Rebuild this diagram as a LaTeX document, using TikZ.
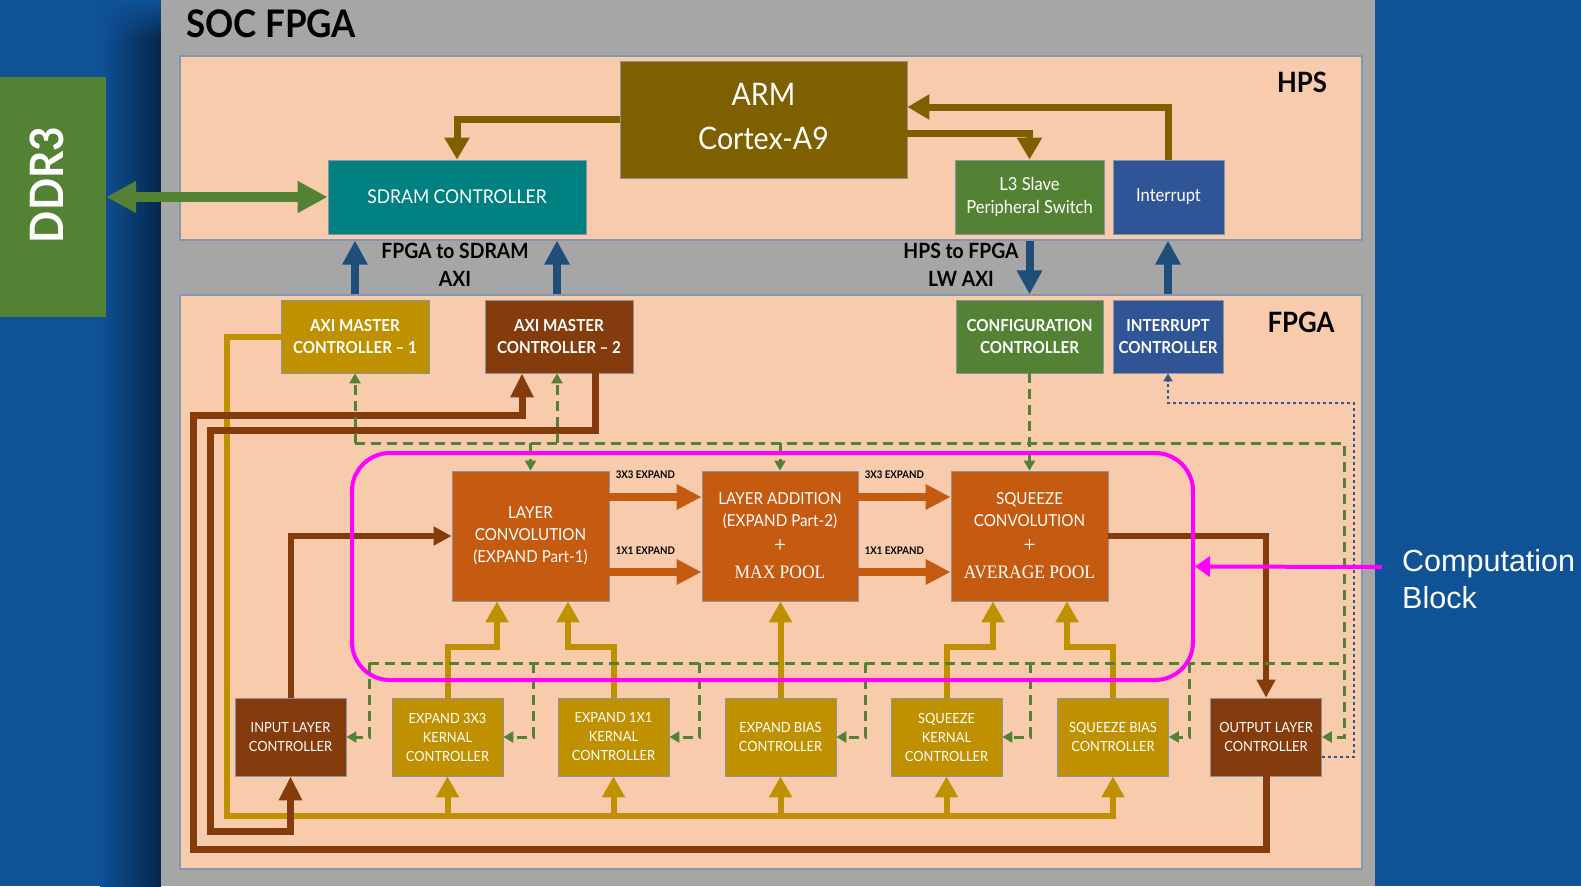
\documentclass[tikz,border=0pt]{standalone}
\usepackage{fontspec}
\setmainfont{Lato}[FakeStretch=0.92]
\newfontfamily\timesfont{Liberation Serif}[FakeStretch=0.92]
\newfontfamily\arialfont{Liberation Sans}
\usetikzlibrary{arrows.meta,calc,fadings}

\definecolor{bgblue}{HTML}{0F5296}
\definecolor{shadowc}{HTML}{06264A}
\definecolor{panelgray}{HTML}{A6A6A6}
\definecolor{peach}{HTML}{F8CBAD}
\definecolor{regionline}{HTML}{8497B0}
\definecolor{boxline}{HTML}{8A949E}
\definecolor{olive}{HTML}{7F6000}
\definecolor{tealbox}{HTML}{008080}
\definecolor{greenbox}{HTML}{548235}
\definecolor{bluebox}{HTML}{2F5597}
\definecolor{goldbox}{HTML}{BF9000}
\definecolor{brownbox}{HTML}{843C0C}
\definecolor{orangebox}{HTML}{C55A11}
\definecolor{arrowblue}{HTML}{1F4E79}
\definecolor{pinkline}{HTML}{FF00FF}

\newcommand\setfs[2]{\fontsize{#1pt}{#2pt}\selectfont}
\tikzfading[name=fadedown, top color=transparent!100, bottom color=transparent!0]

\begin{document}
\begin{tikzpicture}[x=1pt,y=-1pt,
  region/.style={draw=regionline, line width=1.2pt, fill=peach, inner sep=0pt},
  box/.style={draw=boxline, line width=0.8pt, inner sep=0pt, align=center, text=white},
  hpsbox/.style={box, minimum height=74pt},
  topbox/.style={box, minimum width=148pt, minimum height=73pt, font=\bfseries\setfs{16.5}{22}},
  compbox/.style={box, fill=orangebox, minimum width=157pt, minimum height=130pt, font=\setfs{16.5}{22}},
  botbox/.style={box, minimum width=111pt, minimum height=78pt, font=\setfs{14}{19}},
  lbl/.style={inner sep=0pt, font=\bfseries\setfs{10.5}{12}},
  olivearr/.style={draw=olive, line width=7pt, -{Triangle[width=24pt,length=22pt]}},
  ddrarr/.style={draw=greenbox, line width=10pt, {Triangle[width=30pt,length=30pt]}-{Triangle[width=30pt,length=30pt]}},
  bluearr/.style={draw=arrowblue, line width=8pt, -{Triangle[width=24pt,length=24pt]}},
  goldline/.style={draw=goldbox, line width=6pt, line cap=rect},
  goldarr/.style={draw=goldbox, line width=6pt, -{Triangle[width=22pt,length=21pt]}},
  brownarr/.style={draw=brownbox, line width=7pt, -{Triangle[width=22pt,length=24pt]}},
  brownthin/.style={draw=brownbox, line width=6pt, -{Triangle[width=18pt,length=18pt]}},
  orangearr/.style={draw=orangebox, line width=8pt, -{Triangle[width=24pt,length=25pt]}},
  gdash/.style={draw=greenbox, line width=3pt, dash pattern=on 10pt off 6pt},
  gdarr/.style={gdash, -{Triangle[width=11pt,length=10pt]}},
  bdot/.style={draw=bluebox, line width=2.2pt, dash pattern=on 3pt off 3pt, -{Triangle[width=9pt,length=8pt]}},
  pinkarr/.style={draw=pinkline, line width=4pt, -{Triangle[width=20pt,length=15pt]}}
]
\useasboundingbox (0,0) rectangle (1581,886);

% background, shadow and the SoC panel
\fill[bgblue] (0,0) rectangle (1581,886);
\shade[left color=bgblue, right color=shadowc] (100,40) rectangle (161,886);
\shade[left color=bgblue, right color=shadowc, path fading=fadedown] (100,0) rectangle (161,40);
\fill[panelgray] (161,0) rectangle (1375,886);

\node[region, minimum width=1182pt, minimum height=184pt] (hps) at (771,148) {};
\node[region, minimum width=1182pt, minimum height=574pt] (fpga) at (771,582) {};

\node[anchor=west, inner sep=0pt, font=\bfseries\setfs{38}{40}] (soc) at (186,24) {SOC FPGA};
\node[inner sep=0pt, font=\bfseries\setfs{28}{30}] (hpslbl) at (1302,82) {HPS};
\node[inner sep=0pt, font=\bfseries\setfs{28}{30}] (fpgalbl) at (1301,322) {FPGA};

% DDR3 memory
\node[fill=greenbox, minimum width=106pt, minimum height=240pt, inner sep=0pt] (ddr) at (53,197) {};
\node[rotate=90, inner sep=0pt, text=white, font=\bfseries\setfs{46}{50}] (ddrtxt) at (47,185) {DDR3};

% HPS blocks
\node[box, fill=olive, minimum width=287pt, minimum height=117pt] (arm) at (763.5,119.5) {};
\node[inner sep=0pt, align=center, text=white, font=\setfs{31}{44}] (armtxt) at ([yshift=3pt]arm.center) {ARM\\Cortex-A9};
\node[hpsbox, fill=tealbox, minimum width=258pt, font=\setfs{19}{23}] (sdram) at (457,197) {SDRAM CONTROLLER};
\node[hpsbox, fill=greenbox, minimum width=149pt, font=\setfs{18}{23}] (l3) at (1029.5,197) {L3 Slave\\Peripheral Switch};
\node[hpsbox, fill=bluebox, minimum width=111pt, font=\setfs{18}{23}] (intr) at (1168.5,197) {Interrupt};

% bridge labels
\node[inner sep=0pt, align=center, font=\bfseries\setfs{21}{28}] (f2s) at (455,265) {FPGA to SDRAM\\AXI};
\node[inner sep=0pt, align=center, font=\bfseries\setfs{21}{28}] (h2f) at (961,265) {HPS to FPGA\\LW AXI};

% FPGA top row
\node[topbox, fill=goldbox] (axi1) at (355,336.5) {AXI MASTER\\CONTROLLER – 1};
\node[topbox, fill=brownbox] (axi2) at (559,336.5) {AXI MASTER\\CONTROLLER – 2};
\node[topbox, fill=greenbox, minimum width=147pt] (cfg) at (1029.5,336.5) {CONFIGURATION\\CONTROLLER};
\node[topbox, fill=bluebox, minimum width=110pt] (intc) at (1168,336.5) {INTERRUPT\\CONTROLLER};

% computation blocks
\node[compbox] (conv) at (530.5,536) {LAYER\\CONVOLUTION\\(EXPAND Part-1)};
\node[compbox, minimum width=156pt] (add) at (780,536) {LAYER ADDITION\\(EXPAND Part-2)\\[4pt]{\timesfont\setfs{23}{22}+}\\[4pt]{\timesfont\setfs{19}{22}MAX POOL}};
\node[compbox] (sq) at (1029.5,536) {SQUEEZE\\CONVOLUTION\\[4pt]{\timesfont\setfs{23}{22}+}\\[4pt]{\timesfont\setfs{19}{22}AVERAGE POOL}};

% FPGA bottom row
\node[botbox, fill=brownbox] (inp) at (290.5,737) {INPUT LAYER\\CONTROLLER};
\node[botbox, fill=goldbox] (e33) at (447.5,737) {EXPAND 3X3\\KERNAL\\CONTROLLER};
\node[botbox, fill=goldbox] (e11) at (613.5,737) {EXPAND 1X1\\KERNAL\\CONTROLLER};
\node[botbox, fill=goldbox] (eb) at (780.5,737) {EXPAND BIAS\\CONTROLLER};
\node[botbox, fill=goldbox] (sk) at (946.5,737) {SQUEEZE\\KERNAL\\CONTROLLER};
\node[botbox, fill=goldbox] (sb) at (1113,737) {SQUEEZE BIAS\\CONTROLLER};
\node[botbox, fill=brownbox] (olc) at (1266,737) {OUTPUT LAYER\\CONTROLLER};

% routing points
\coordinate (gbus) at (227,816);
\coordinate (bA1) at (193,849);
\coordinate (bA2) at (193,415);
\coordinate (bB1) at (210,430);
\coordinate (bB2) at (210,831);
\coordinate (tb) at (0,443);
\coordinate (lb) at (0,663);
\coordinate (rx) at (1344,0);
\coordinate (d1) at (369,663);
\coordinate (d2) at (533,663);
\coordinate (d3) at (699,663);
\coordinate (d4) at (865,663);
\coordinate (d5) at (1030,663);
\coordinate (d6) at (1189,663);
\coordinate (dotR) at (1354,403);

% HPS connections
\draw[olivearr] (arm.west) -| (sdram.north);
\draw[olivearr] ([yshift=-13.5pt]arm.east) -| (l3.north);
\draw[olivearr] (intr.north) |- ([yshift=12.5pt]arm.east);
\draw[ddrarr] (ddr.east) -- (sdram.west);

% HPS <-> FPGA bridges
\draw[bluearr] (axi1.north |- fpga.north) -- (axi1.north |- hps.south);
\draw[bluearr] ([xshift=-2pt]axi2.north |- fpga.north) -- ([xshift=-2pt]axi2.north |- hps.south);
\draw[bluearr] (l3.south |- hps.south) -- (l3.south |- fpga.north);
\draw[bluearr] (intc.north |- fpga.north) -- (intc.north |- hps.south);

% parameter bus from AXI master 1
\draw[goldline] (axi1.west) -| (gbus) -- (sb.south |- gbus);
\foreach \n in {e33,e11,eb,sk,sb} \draw[goldarr] (\n.south |- gbus) -- (\n.south);
\draw[goldarr] (e33.north) -- ++(0,-51) -| ([xshift=-33.5pt]conv.south);
\draw[goldarr] (e11.north) -- ++(0,-51) -| ([xshift=37.5pt]conv.south);
\draw[goldarr] (eb.north) -- (eb.north |- add.south);
\draw[goldarr] (sk.north) -- ++(0,-51) -| ([xshift=-36.5pt]sq.south);
\draw[goldarr] (sb.north) -- ++(0,-51) -| ([xshift=37.5pt]sq.south);

% data path
\draw[brownarr] (olc.south) |- (bA1) -- (bA2) -| ([xshift=-37pt]axi2.south);
\draw[brownarr] ([xshift=36pt]axi2.south) |- (bB1) -- (bB2) -| (inp.south);
\draw[brownthin] (inp.north) |- (conv.west);
\draw[brownthin] (sq.east) -| (olc.north);
\draw[orangearr] ([yshift=39pt]conv.east) -- ([yshift=39pt]add.west) node[lbl, pos=0.39, above=14pt] (x33a) {3X3 EXPAND};
\draw[orangearr] ([yshift=-36pt]conv.east) -- ([yshift=-36pt]add.west) node[lbl, pos=0.39, above=14pt] (x11a) {1X1 EXPAND};
\draw[orangearr] ([yshift=39pt]add.east) -- ([yshift=39pt]sq.west) node[lbl, pos=0.39, above=14pt] (x33b) {3X3 EXPAND};
\draw[orangearr] ([yshift=-36pt]add.east) -- ([yshift=-36pt]sq.west) node[lbl, pos=0.39, above=14pt] (x11b) {1X1 EXPAND};

% configuration buses
\draw[gdarr] (axi1.south |- tb) -- (rx |- tb) -- (rx |- olc.east) -- (olc.east);
\draw[gdarr] (axi1.south |- tb) -- (axi1.south);
\draw[gdarr] ([xshift=-2pt]axi2.south |- tb) -- ([xshift=-2pt]axi2.south);
\draw[gdarr] (conv.north |- tb) -- (conv.north);
\draw[gdarr] (add.north |- tb) -- (add.north);
\draw[gdarr] (cfg.south) -- (sq.north);
\draw[gdash] (d1) -- (rx |- lb);
\draw[gdarr] (d1) |- (inp.east);
\draw[gdarr] (d2) |- (e33.east);
\draw[gdarr] (d3) |- (e11.east);
\draw[gdarr] (d4) |- (eb.east);
\draw[gdarr] (d5) |- (sk.east);
\draw[gdarr] (d6) |- (sb.east);

% interrupt line
\draw[bdot] ([yshift=-20pt]olc.east) -| (dotR) -| (intc.south);

% computation block outline and its label
\node[draw=pinkline, line width=4pt, rounded corners=38pt, minimum width=841pt, minimum height=227pt, inner sep=0pt] (cblock) at (772.5,566.5) {};
\coordinate (cbtail) at (1382,567);
\draw[pinkarr] (cbtail) -- (cblock.east);
\node[anchor=base west, inner sep=0pt, text=white, font=\arialfont\setfs{30.5}{37}] (cb1) at (1402,571) {Computation};
\node[anchor=base west, inner sep=0pt, text=white, font=\arialfont\setfs{30.5}{37}] (cb2) at (1402,608) {Block};
\end{tikzpicture}
\end{document}
